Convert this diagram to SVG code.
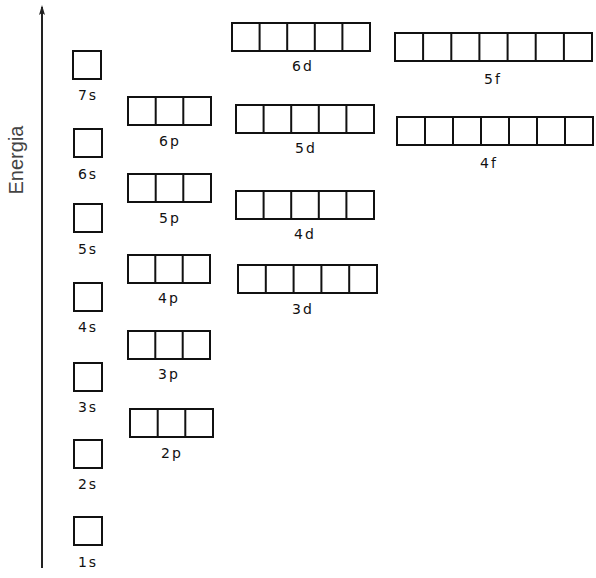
<svg xmlns="http://www.w3.org/2000/svg" width="596" height="578" viewBox="0 0 596 578">
<defs>
<style>
.b{fill:none;stroke:#111;stroke-width:2}
.l{font-family:"DejaVu Sans",Verdana,sans-serif;font-size:14px;fill:#111;text-anchor:middle;letter-spacing:2px}
.ax{stroke:#222;stroke-width:2;fill:none}
</style>
<marker id="ah" viewBox="0 0 10 6" refX="8" refY="3" markerWidth="10" markerHeight="6" markerUnits="userSpaceOnUse" orient="auto">
<path d="M0,0 L10,3 L0,6 L2,3 Z" fill="#222"/>
</marker>
</defs>
<rect width="596" height="578" fill="#fff"/>
<g id="connectors">
<line class="ax" x1="42" y1="568" x2="42" y2="7" marker-end="url(#ah)"/>
</g>
<text x="16" y="160" transform="rotate(-90 16 160)" font-family="'Liberation Sans',Arial,sans-serif" font-size="20" fill="#444" text-anchor="middle" dominant-baseline="central">Energia</text>
<g id="s7"><rect class="b" x="73" y="51" width="28" height="28"/><text class="l" x="88" y="100">7s</text></g>
<g id="s6"><rect class="b" x="74" y="129" width="28" height="28"/><text class="l" x="88" y="179">6s</text></g>
<g id="s5"><rect class="b" x="74" y="204" width="28" height="28"/><text class="l" x="88" y="254">5s</text></g>
<g id="s4"><rect class="b" x="74" y="283" width="28" height="28"/><text class="l" x="88" y="332">4s</text></g>
<g id="s3"><rect class="b" x="74" y="363" width="28" height="28"/><text class="l" x="88" y="412">3s</text></g>
<g id="s2"><rect class="b" x="74" y="440" width="28" height="28"/><text class="l" x="88" y="489">2s</text></g>
<g id="s1"><rect class="b" x="74" y="517" width="28" height="28"/><text class="l" x="88" y="567">1s</text></g>
<g id="p6"><rect class="b" x="128" y="97" width="83" height="28"/><path class="b" d="M155.7,97v28M183.3,97v28"/><text class="l" x="170" y="146">6p</text></g>
<g id="p5"><rect class="b" x="128" y="174" width="83" height="28"/><path class="b" d="M155.7,174v28M183.3,174v28"/><text class="l" x="170" y="223">5p</text></g>
<g id="p4"><rect class="b" x="128" y="255" width="82" height="28"/><path class="b" d="M155.3,255v28M182.7,255v28"/><text class="l" x="169" y="303">4p</text></g>
<g id="p3"><rect class="b" x="128" y="331" width="82" height="28"/><path class="b" d="M155.3,331v28M182.7,331v28"/><text class="l" x="169" y="379">3p</text></g>
<g id="p2"><rect class="b" x="130" y="409" width="83" height="28"/><path class="b" d="M157.7,409v28M185.3,409v28"/><text class="l" x="172" y="458">2p</text></g>
<g id="d6"><rect class="b" x="232" y="23" width="138" height="28"/><path class="b" d="M259.6,23v28M287.2,23v28M314.8,23v28M342.4,23v28"/><text class="l" x="303" y="71">6d</text></g>
<g id="d5"><rect class="b" x="236" y="105" width="138" height="28"/><path class="b" d="M263.6,105v28M291.2,105v28M318.8,105v28M346.4,105v28"/><text class="l" x="306" y="153">5d</text></g>
<g id="d4"><rect class="b" x="236" y="191" width="138" height="28"/><path class="b" d="M263.6,191v28M291.2,191v28M318.8,191v28M346.4,191v28"/><text class="l" x="305" y="239">4d</text></g>
<g id="d3"><rect class="b" x="238" y="265" width="139" height="28"/><path class="b" d="M265.8,265v28M293.6,265v28M321.4,265v28M349.2,265v28"/><text class="l" x="303" y="314">3d</text></g>
<g id="f5"><rect class="b" x="395" y="33" width="197" height="28"/><path class="b" d="M423.1,33v28M451.3,33v28M479.4,33v28M507.6,33v28M535.7,33v28M563.9,33v28"/><text class="l" x="493" y="84">5f</text></g>
<g id="f4"><rect class="b" x="397" y="117" width="196" height="28"/><path class="b" d="M425,117v28M453,117v28M481,117v28M509,117v28M537,117v28M565,117v28"/><text class="l" x="489" y="168">4f</text></g>
</svg>
